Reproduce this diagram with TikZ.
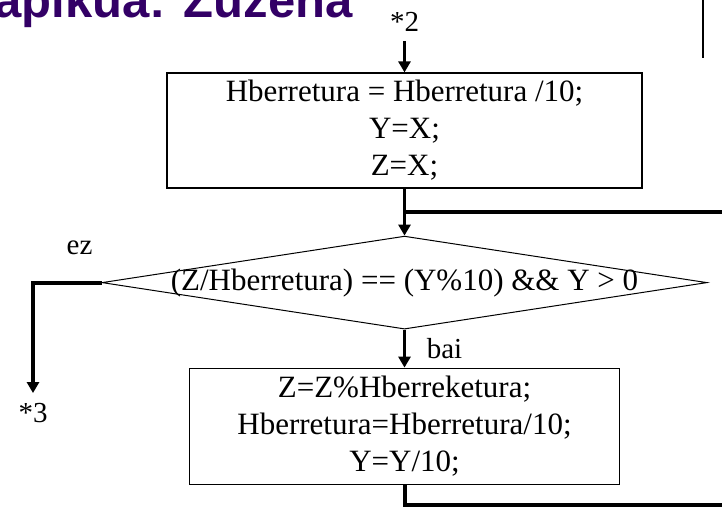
\documentclass[tikz,border=0pt]{standalone}
\usepackage{fontspec}
\setmainfont{Liberation Serif}
\setsansfont{Liberation Sans}
\usepackage{tikz}
\usetikzlibrary{positioning, shapes.geometric, arrows.meta, calc}
\definecolor{titlepurple}{RGB}{51,0,102}

\begin{document}
\begin{tikzpicture}[x=1pt, y=1pt,
                procbox/.style={draw=black, line width=1.2pt, rectangle, align=center, inner sep=0pt, font=\fontsize{31}{37}\selectfont},
                decision/.style={draw=black, line width=1pt, diamond, inner sep=0pt, minimum width=605pt, minimum height=93pt, font=\fontsize{31}{37}\selectfont},
                reflabel/.style={inner sep=10pt, font=\fontsize{29}{34}\selectfont},
                branchlabel/.style={inner sep=0pt, font=\fontsize{29}{34}\selectfont},
                flowarrow/.style={line width=3pt, -{Triangle[width=12pt, length=11pt]}},
                loopline/.style={line width=4pt},
                slidetitle/.style={text=titlepurple, font=\fontsize{49}{49}\sffamily\bfseries, inner sep=0pt}
            ]

            \useasboundingbox (0,0) rectangle (722,-506);
            \clip (0,0) rectangle (722,-506);

            % Knoten
            \node[slidetitle, anchor=base west] (title) at (-6,-17) {apikua: Zuzena};
            \node[reflabel] (ref2) at (404.5,-21.5) {*2};
            \node[procbox, minimum width=475pt, minimum height=115pt] (init) at (404.5,-130.5) {Hberretura = Hberretura /10;\\Y=X;\\Z=X;};
            \node[decision, below=47pt of init] (cond) {\makebox[0pt]{(Z/Hberretura) == (Y\%10) \&\& Y > 0}};
            \node[procbox, minimum width=430pt, minimum height=116pt, below=38pt of cond] (body) {Z=Z\%Hberreketura;\\Hberretura=Hberretura/10;\\Y=Y/10;};
            \node[reflabel] (ref3) at (33,-413) {*3};
            \node[branchlabel] (nolabel) at ([xshift=-22pt, yshift=35pt] cond.west) {ez};
            \node[branchlabel] (yeslabel) at ([xshift=40pt, yshift=-19pt] cond.south) {bai};
            \coordinate (join) at ($(init.south)!0.5!(cond.north)$);
            \coordinate (loopcorner) at (760,-505);
            \coordinate (ruletop) at (703,0);
            \coordinate (rulefoot) at (703,-58);

            % Verbindungen
            \draw[line width=1.5pt] (ruletop) -- (rulefoot);
            \draw[flowarrow] (ref2) -- (init);
            \draw[flowarrow] (init) -- (cond);
            \draw[flowarrow] (cond) -- (body);
            \draw[flowarrow, line width=4pt] (cond.west) -| (ref3.north);
            \draw[loopline] (body.south) |- (loopcorner) |- (join);

\end{tikzpicture}
\end{document}
